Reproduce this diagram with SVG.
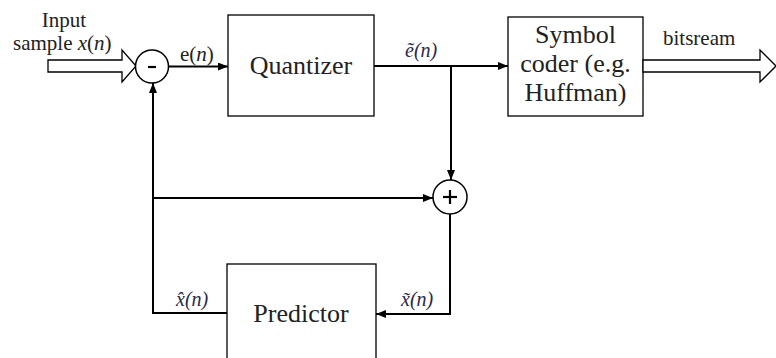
<svg xmlns="http://www.w3.org/2000/svg" width="776" height="358" viewBox="0 0 776 358">
<defs>
<style>
.box{fill:#fff;stroke:#000;stroke-width:1.3}
.lbl{font-size:26px;fill:#222;text-anchor:middle}
.txt{font-size:21px;fill:#222}
.math{font-size:20px;fill:#2a2a4a;font-style:italic}
.wire{fill:none;stroke:#000;stroke-width:2}
.hollow{fill:#fff;stroke:#000;stroke-width:1.3}
.sum{fill:#fff;stroke:#000;stroke-width:1.5}
</style>
<marker id="ah" markerWidth="10" markerHeight="8" refX="10" refY="4" orient="auto" markerUnits="userSpaceOnUse">
<path d="M0,0 L10,4 L0,8 Z" fill="#000"/>
</marker>
</defs>
<rect width="776" height="358" fill="#fff"/>
<g font-family="'Liberation Serif', 'Times New Roman', serif">

<g id="input">
<polygon class="hollow" points="48,60 122,60 122,50 136,66 122,82 122,72 48,72"/>
<text class="txt" x="64" y="27" text-anchor="middle">Input</text>
<text class="txt" x="13" y="50">sample <tspan font-style="italic">x</tspan>(<tspan font-style="italic">n</tspan>)</text>
</g>

<g id="subtract">
<circle class="sum" cx="152" cy="66.5" r="16.5"/>
<line x1="148" y1="67" x2="156" y2="67" stroke="#000" stroke-width="2.2"/>
</g>

<g id="quantizer">
<rect class="box" x="228" y="15" width="146" height="101"/>
<text class="lbl" x="301" y="74" font-family="'Liberation Serif', serif">Quantizer</text>
</g>

<g id="coder">
<rect class="box" x="508" y="17" width="135" height="99"/>
<text class="lbl" x="575.5" y="43" font-family="'Liberation Serif', serif">Symbol</text>
<text class="lbl" x="575.5" y="72" font-family="'Liberation Serif', serif">coder (e.g.</text>
<text class="lbl" x="575.5" y="101" font-family="'Liberation Serif', serif">Huffman)</text>
</g>

<g id="output">
<polygon class="hollow" points="643,60 760,60 760,50 776,66 760,82 760,72 643,72"/>
<text class="txt" x="663" y="45">bitsream</text>
</g>

<g id="adder">
<circle class="sum" cx="450" cy="197" r="17"/>
<line x1="443" y1="197" x2="457" y2="197" stroke="#000" stroke-width="2.2"/>
<line x1="450" y1="190" x2="450" y2="204" stroke="#000" stroke-width="2.2"/>
</g>

<g id="predictor">
<rect class="box" x="227" y="264" width="149" height="110"/>
<text class="lbl" x="301" y="322" font-family="'Liberation Serif', serif">Predictor</text>
</g>

<g id="connectors">
<path class="wire" d="M168.5,66.5 H228" marker-end="url(#ah)"/>
<path class="wire" d="M374,66 H508" marker-end="url(#ah)"/>
<path class="wire" d="M451,66 V180" marker-end="url(#ah)"/>
<path class="wire" d="M153,198 H433" marker-end="url(#ah)"/>
<path class="wire" d="M227,313 H153 V83" marker-end="url(#ah)"/>
<path class="wire" d="M450,214 V314 H376" marker-end="url(#ah)"/>
</g>

<g id="labels">
<text class="txt" x="180" y="61" font-size="20">e(<tspan font-style="italic">n</tspan>)</text>
<text class="math" x="405" y="57">ẽ(n)</text>
<text class="math" x="176" y="306">x&#770;(n)</text>
<text class="math" x="401" y="306">x&#771;(n)</text>
</g>
</g>
</svg>
